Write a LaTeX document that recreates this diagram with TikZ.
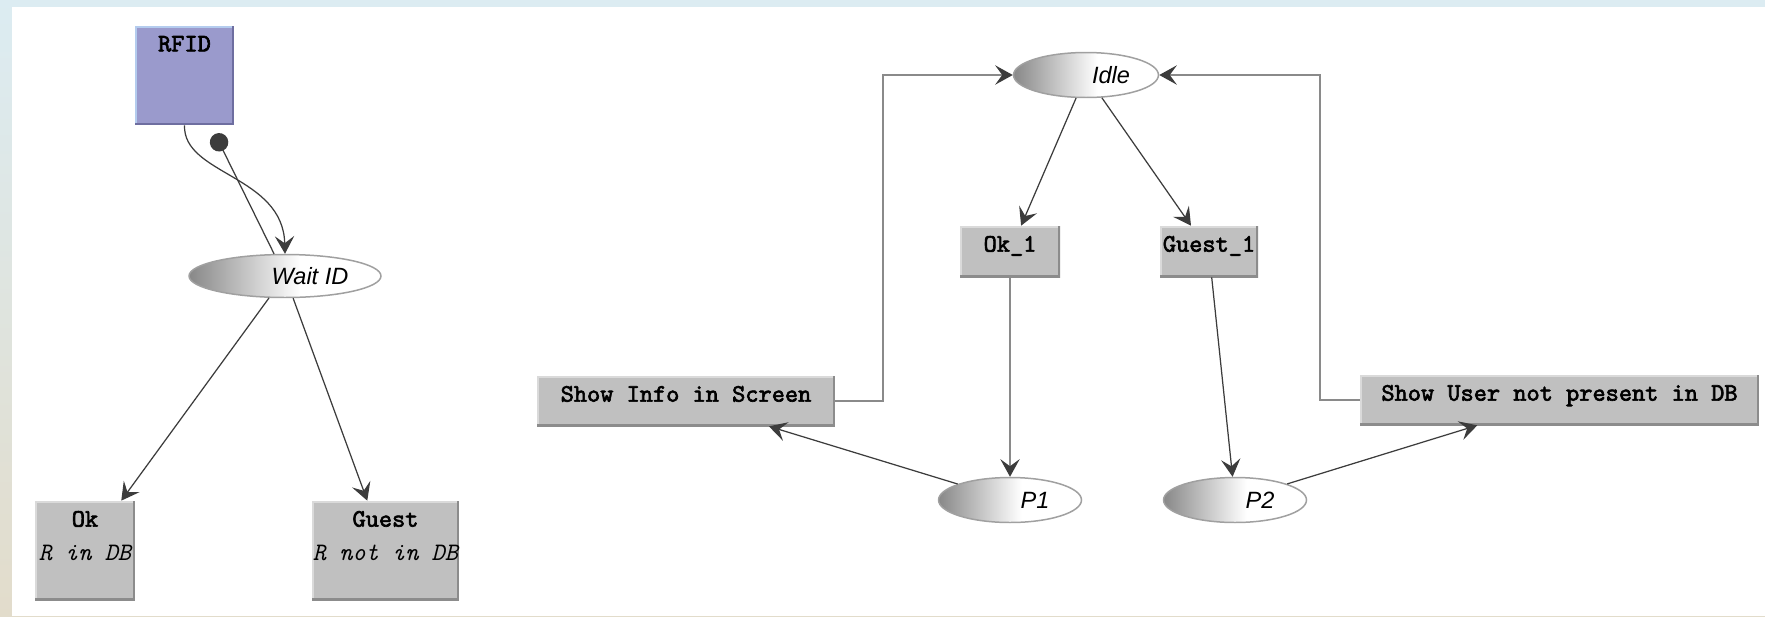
\documentclass[tikz,border=0pt]{standalone}
\usepackage{fontspec}
\setsansfont{Liberation Sans}
\setmonofont{lmmono10-regular.otf}[ItalicFont=lmmono10-italic.otf, AutoFakeBold=2.5]
\usetikzlibrary{arrows.meta,shapes.geometric}

\definecolor{transgray}{HTML}{C0C0C0}
\definecolor{translight}{HTML}{DADADA}
\definecolor{transdark}{HTML}{8C8C8C}
\definecolor{rfidfill}{HTML}{9A9ACC}
\definecolor{rfidlight}{HTML}{B4CCEE}
\definecolor{rfiddark}{HTML}{6E6EA0}
\definecolor{placedark}{HTML}{888888}
\definecolor{placeedge}{HTML}{A0A0A0}
\definecolor{arcgray}{HTML}{3C3C3C}
\definecolor{backgray}{HTML}{8A8A8A}
\definecolor{bgblue}{HTML}{DCECF2}
\definecolor{bgbeige}{HTML}{E2DCCB}

\pgfdeclarehorizontalshading{placeshade}{100bp}{color(0bp)=(placedark); color(25bp)=(placedark); color(54bp)=(white); color(100bp)=(white)}

\tikzset{
    bevel/.style 2 args={path picture={
        \draw[#1, line width=2pt] (path picture bounding box.south west) |- (path picture bounding box.north east);
        \draw[#2, line width=2pt] (path picture bounding box.south west) -| (path picture bounding box.north east);}},
    trans/.style={rectangle, inner sep=0pt, fill=transgray, bevel={translight}{transdark}},
    place/.style={ellipse, inner sep=0pt, draw=placeedge, line width=0.85pt, shade, shading=placeshade},
    boxtitle/.style={anchor=north, inner sep=0.2cm, align=center, font=\ttfamily\bfseries\fontsize{14.3}{17.3}\selectfont},
    placetext/.style={xshift=0.5cm, font=\sffamily\itshape\fontsize{13.4}{16}\selectfont},
    flow/.style={draw=arcgray, line width=0.7pt, -{Stealth[length=10pt, width=11pt, inset=4pt]}},
    backflow/.style={draw=backgray, line width=1.1pt, -{Stealth[length=10pt, width=11pt, inset=4pt, color=arcgray]}},
    tap/.style={draw=arcgray, line width=0.7pt, -{Circle[length=10.5pt]}},
}

\begin{document}
\begin{tikzpicture}[x=0.02cm, y=-0.02cm]
    \shade[top color=bgblue, bottom color=bgbeige] (0,0) rectangle (1765,616);
    \fill[white] (12,7) rectangle (1765,616);
    \useasboundingbox (0,0) rectangle (1765,616);

    \node[trans, fill=rfidfill, bevel={rfidlight}{rfiddark}, minimum width=1.98cm, minimum height=1.98cm,
        label={[boxtitle]north:RFID}] (rfid) at (184.5,75.5) {};
    \node[place, minimum width=3.84cm, minimum height=0.86cm, label={[placetext]center:Wait ID}] (wait) at (285,276) {};
    \node[trans, minimum width=2cm, minimum height=1.98cm,
        label={[boxtitle]north:{Ok\\[2pt]{\mdseries\itshape R in DB}}}] (ok) at (85,550.5) {};
    \node[trans, minimum width=2.94cm, minimum height=1.98cm,
        label={[boxtitle]north:{Guest\\[2pt]{\mdseries\itshape R not in DB}}}] (guest) at (385.5,550.5) {};
    \coordinate (rfidtap) at (215,134);

    \node[place, minimum width=2.9cm, minimum height=0.9cm, label={[placetext]center:Idle}] (idle) at (1086,75) {};
    \node[trans, minimum width=2cm, minimum height=1.02cm, label={[boxtitle]north:Ok\_1}] (ok1) at (1010,251.5) {};
    \node[trans, minimum width=1.96cm, minimum height=1.02cm, label={[boxtitle]north:Guest\_1}] (guest1) at (1209,251.5) {};
    \node[place, minimum width=2.86cm, minimum height=0.9cm, label={[placetext]center:P1}] (p1) at (1010,500) {};
    \node[place, minimum width=2.86cm, minimum height=0.9cm, label={[placetext]center:P2}] (p2) at (1235,500) {};
    \node[trans, minimum width=5.96cm, minimum height=1cm, label={[boxtitle]north:Show Info in Screen}] (showinfo) at (686,401) {};
    \node[trans, minimum width=7.98cm, minimum height=1cm, label={[boxtitle]north:Show User not present in DB}] (showuser) at (1559.5,400) {};

    \draw[flow] (rfid.south) .. controls (183,175) and (283,175) .. (wait.north);
    \draw[tap] (wait) -- (rfidtap);
    \draw[flow] (wait) -- (ok);
    \draw[flow] (wait) -- (guest);

    \draw[flow] (idle) -- (ok1);
    \draw[flow] (idle) -- (guest1);
    \draw[backflow] (ok1) -- (p1);
    \draw[flow] (guest1) -- (p2);
    \draw[flow] (p1) -- (showinfo);
    \draw[flow] (p2) -- (showuser);
    \draw[backflow] (showinfo.east) -- ++(48,0) |- (idle.west);
    \draw[backflow] (showuser.west) -- ++(-40,0) |- (idle.east);
\end{tikzpicture}
\end{document}
